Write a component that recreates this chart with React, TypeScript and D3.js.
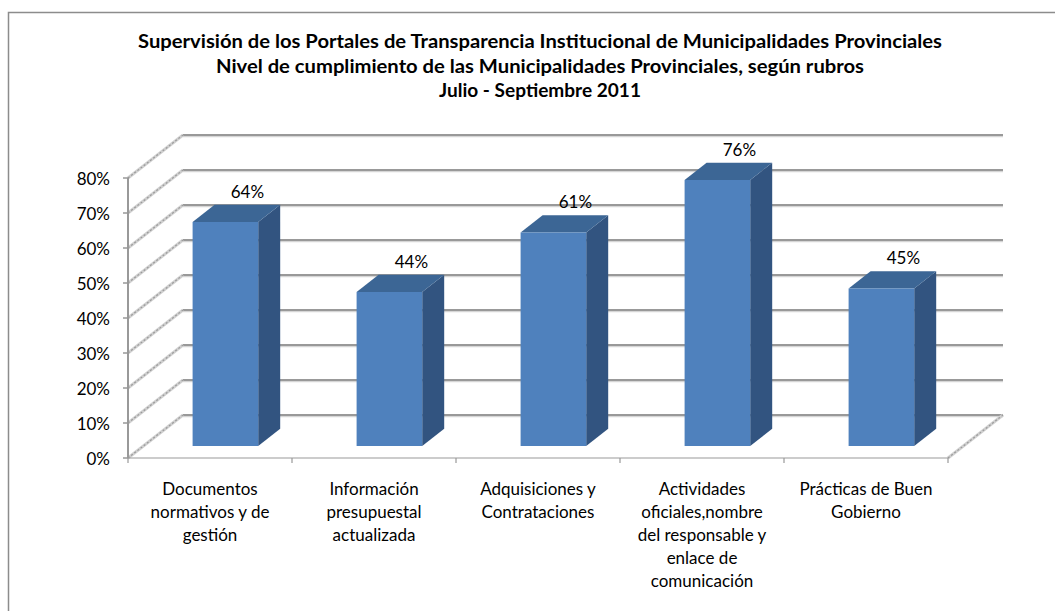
import React from "react";
import * as d3 from "d3";

const titleLines = [
  "Supervisión de los Portales de Transparencia Institucional de Municipalidades Provinciales",
  "Nivel de cumplimiento de las Municipalidades Provinciales, según rubros",
  "Julio - Septiembre 2011",
];
const titleWidths = [804, 648, 202];

const categories = [
  "Documentos normativos y de gestión",
  "Información presupuestal actualizada",
  "Adquisiciones y Contrataciones",
  "Actividades oficiales,nombre del responsable y enlace de comunicación",
  "Prácticas de Buen Gobierno",
];
const categoryLines = [
  ["Documentos", "normativos y de", "gestión"],
  ["Información", "presupuestal", "actualizada"],
  ["Adquisiciones y", "Contrataciones"],
  ["Actividades", "oficiales,nombre", "del responsable y", "enlace de", "comunicación"],
  ["Prácticas de Buen", "Gobierno"],
];
const values = [0.64, 0.44, 0.61, 0.76, 0.45];
const yTicks = [0, 0.1, 0.2, 0.3, 0.4, 0.5, 0.6, 0.7, 0.8];

const W = 1055;
const H = 611;
const FONT = "Lato, 'Open Sans', sans-serif";

export default function App() {
  const x = d3.scaleBand<string>().domain(categories).range([128, 948]).padding(0);
  const y = d3.scaleLinear().domain([0, 0.8]).range([458, 178]);
  const DX = 55;
  const DY = -43;
  const proj = (px: number, v: number, d: number): [number, number] => [px + DX * d, y(v) + DY * d];
  const d0 = 0.28;
  const d1 = 0.68;
  const bw = x.bandwidth() * 0.4;
  const fmt = d3.format(".0%");
  const pts = (a: [number, number][]) => a.map((p) => p.join(",")).join(" ");

  const x0 = x.range()[0];
  const x1 = x.range()[1];

  return (
    <svg width={W} height={H} style={{ position: "absolute", left: 0, top: 0, background: "#fff" }}>
      <rect x={8.5} y={12.5} width={1200} height={800} fill="#fff" stroke="#8c8c8c" strokeWidth={1.5} />
      {/* title */}
      {titleLines.map((t, i) => (
        <text
          key={i}
          x={540}
          y={48 + i * 24.5}
          textAnchor="middle"
          fontFamily={FONT}
          fontWeight="bold"
          fontSize={18}
          fill="#000"
          textLength={titleWidths[i]}
          lengthAdjust="spacingAndGlyphs"
        >
          {t}
        </text>
      ))}
      {/* back wall gridlines */}
      {yTicks.map((v) => {
        const a = proj(x0, v, 1);
        const b = proj(x1, v, 1);
        return (
          <g key={"bg" + v}>
            <line x1={a[0]} y1={a[1] + 1.5} x2={b[0]} y2={b[1] + 1.5} stroke="#d6d6d6" strokeWidth={1.5} />
            <line x1={a[0]} y1={a[1]} x2={b[0]} y2={b[1]} stroke="#999" strokeWidth={2.2} />
          </g>
        );
      })}
      {/* left wall diagonals */}
      {yTicks.map((v) => {
        const a = proj(x0, v, 0);
        const b = proj(x0, v, 1);
        return (
          <g key={"lw" + v}>
            <line x1={a[0]} y1={a[1]} x2={b[0]} y2={b[1]} stroke="#d0d0d0" strokeWidth={3} />
            <line x1={a[0]} y1={a[1]} x2={b[0]} y2={b[1]} stroke="#9a9a9a" strokeWidth={1.2} strokeDasharray="2 2" />
          </g>
        );
      })}
      {/* right floor diagonal */}
      {(() => {
        const a = proj(x1, 0, 0);
        const b = proj(x1, 0, 1);
        return (
          <g>
            <line x1={a[0]} y1={a[1]} x2={b[0]} y2={b[1]} stroke="#d0d0d0" strokeWidth={3} />
            <line x1={a[0]} y1={a[1]} x2={b[0]} y2={b[1]} stroke="#9a9a9a" strokeWidth={1.2} strokeDasharray="2 2" />
          </g>
        );
      })()}
      {/* front floor edge */}
      <line x1={x0} y1={y(0)} x2={x1} y2={y(0)} stroke="#999" strokeWidth={1.2} />
      {[...categories.map((c) => x(c) as number), x1].map((t, i) => (
        <line key={"ct" + i} x1={t} y1={y(0)} x2={t} y2={y(0) + 5} stroke="#999" strokeWidth={1.2} />
      ))}
      {/* bars */}
      {categories.map((c, i) => {
        const v = values[i];
        const cx = (x(c) as number) + x.bandwidth() / 2;
        const l = cx - bw / 2;
        const r = cx + bw / 2;
        const fbl = proj(l, 0, d0);
        const fbr = proj(r, 0, d0);
        const ftl = proj(l, v, d0);
        const ftr = proj(r, v, d0);
        const bbr = proj(r, 0, d1);
        const btr = proj(r, v, d1);
        const btl = proj(l, v, d1);
        const lab = proj(cx, v, d1);
        return (
          <g key={"bar" + i}>
            <polygon points={pts([fbr, bbr, btr, ftr])} fill="#325480" />
            <polygon points={pts([ftl, ftr, btr, btl])} fill="#3c6695" />
            <polygon points={pts([fbl, fbr, ftr, ftl])} fill="#4f81bd" />
            <text x={lab[0]} y={lab[1] - 7} textAnchor="middle" fontFamily={FONT} fontSize={17} fill="#000">
              {fmt(v)}
            </text>
          </g>
        );
      })}
      {/* front value axis */}
      <line x1={x0} y1={y(0.8)} x2={x0} y2={y(0)} stroke="#999" strokeWidth={2} />
      {yTicks.map((v) => (
        <g key={"yt" + v}>
          <line x1={x0 - 5} y1={y(v)} x2={x0} y2={y(v)} stroke="#999" strokeWidth={1.5} />
          <text x={110} y={y(v) + 7} textAnchor="end" fontFamily={FONT} fontSize={17} fill="#000">
            {fmt(v)}
          </text>
        </g>
      ))}
      {/* category labels */}
      {categories.map((c, i) => {
        const cx = (x(c) as number) + x.bandwidth() / 2;
        return (
          <text key={"cl" + i} textAnchor="middle" fontFamily={FONT} fontSize={17} fill="#000">
            {categoryLines[i].map((ln, j) => (
              <tspan key={j} x={cx} y={495 + j * 23}>
                {ln}
              </tspan>
            ))}
          </text>
        );
      })}
    </svg>
  );
}
